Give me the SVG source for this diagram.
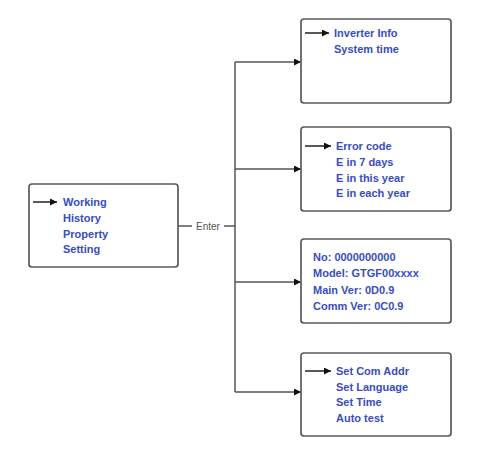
<svg xmlns="http://www.w3.org/2000/svg" width="486" height="462" viewBox="0 0 486 462">
<style>
.box{fill:#fff;stroke:#5a5a5a;stroke-width:1.7}
.t{font-family:"Liberation Sans",Arial,sans-serif;font-weight:bold;font-size:11px;fill:#3a4cc0}
.ln{stroke:#555;stroke-width:1.5;fill:none}
.ia{stroke:#111;stroke-width:1.4;fill:none}
.lbl{font-family:"Liberation Sans",Arial,sans-serif;font-size:10px;fill:#555}
</style>
<defs>
<marker id="ah" viewBox="0 0 10 10" refX="10" refY="5" markerWidth="8" markerHeight="7" markerUnits="userSpaceOnUse" orient="auto">
<path d="M0,0 L10,5 L0,10 z" fill="#111"/>
</marker>
</defs>
<rect width="486" height="462" fill="#fff"/>
<g id="connectors">
<line class="ln" x1="178" y1="226" x2="192" y2="226"/>
<text class="lbl" x="208" y="229.5" text-anchor="middle">Enter</text>
<line class="ln" x1="224" y1="226" x2="235" y2="226"/>
<line class="ln" x1="235" y1="62" x2="235" y2="392"/>
<line class="ln" x1="235" y1="62" x2="301" y2="62" marker-end="url(#ah)"/>
<line class="ln" x1="235" y1="169" x2="301" y2="169" marker-end="url(#ah)"/>
<line class="ln" x1="235" y1="282" x2="301" y2="282" marker-end="url(#ah)"/>
<line class="ln" x1="235" y1="392" x2="301" y2="392" marker-end="url(#ah)"/>
</g>
<g id="main-menu">
<rect class="box" x="29" y="184" width="149" height="83" rx="3"/>
<line class="ia" x1="33" y1="202" x2="57" y2="202" marker-end="url(#ah)"/>
<text class="t" x="63" y="206">Working</text>
<text class="t" x="63" y="221.5">History</text>
<text class="t" x="63" y="237.5">Property</text>
<text class="t" x="63" y="253">Setting</text>
</g>
<g id="working">
<rect class="box" x="301" y="19" width="150" height="84" rx="3"/>
<line class="ia" x1="305" y1="33" x2="329" y2="33" marker-end="url(#ah)"/>
<text class="t" x="334" y="37">Inverter Info</text>
<text class="t" x="334" y="53">System time</text>
</g>
<g id="history">
<rect class="box" x="301" y="127" width="150" height="84" rx="3"/>
<line class="ia" x1="305" y1="146" x2="331" y2="146" marker-end="url(#ah)"/>
<text class="t" x="336" y="150">Error code</text>
<text class="t" x="336" y="166">E in 7 days</text>
<text class="t" x="336" y="181.5">E in this year</text>
<text class="t" x="336" y="197">E in each year</text>
</g>
<g id="property">
<rect class="box" x="301" y="239" width="150" height="84" rx="3"/>
<text class="t" x="313" y="261">No: 0000000000</text>
<text class="t" x="313" y="277">Model: GTGF00xxxx</text>
<text class="t" x="313" y="294">Main Ver: 0D0.9</text>
<text class="t" x="313" y="310">Comm Ver: 0C0.9</text>
</g>
<g id="setting">
<rect class="box" x="301" y="353" width="150" height="83" rx="3"/>
<line class="ia" x1="305" y1="371" x2="331" y2="371" marker-end="url(#ah)"/>
<text class="t" x="336" y="375">Set Com Addr</text>
<text class="t" x="336" y="391">Set Language</text>
<text class="t" x="336" y="406">Set Time</text>
<text class="t" x="336" y="422">Auto test</text>
</g>
</svg>
